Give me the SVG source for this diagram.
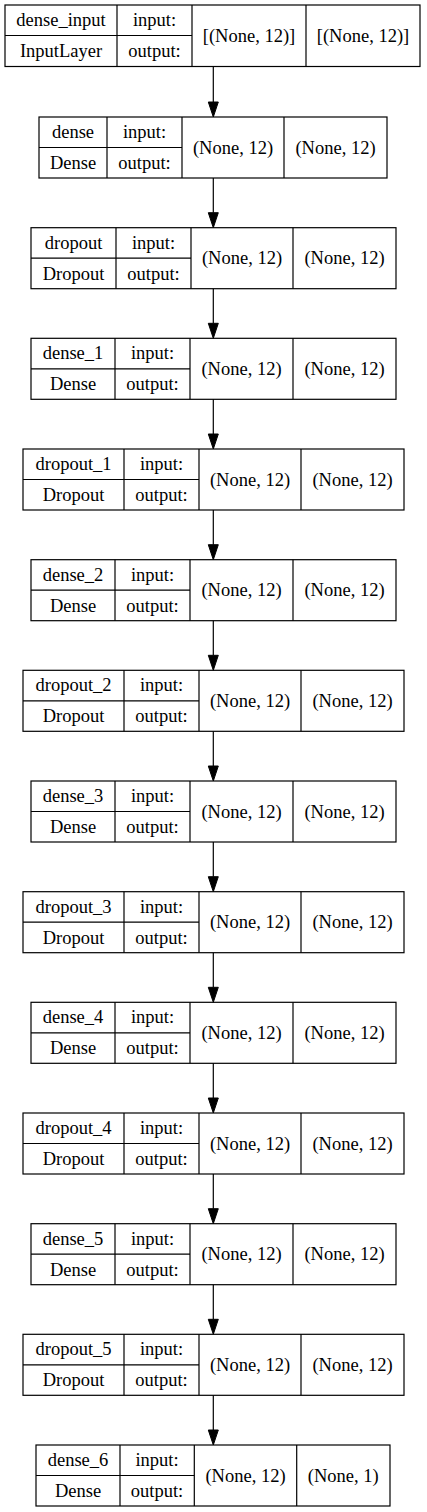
<svg xmlns="http://www.w3.org/2000/svg" width="427" height="1512" viewBox="0 0 427 1512">
<style>
.b{fill:none;stroke:#000;stroke-width:1.2}
.bg{fill:#fff}
text{font-family:"Liberation Serif","Times New Roman",serif;font-size:18.5px;text-anchor:middle;fill:#000}
.e{stroke:#000;stroke-width:1.2;fill:none}
.h{fill:#000;stroke:#000;stroke-width:1}
</style>
<rect x="0" y="0" width="427" height="1512" fill="#fff"/>
<g id="connectors">
<line class="e" x1="213.3" y1="66.5" x2="213.3" y2="102"/><polygon class="h" points="208.3,102 218.3,102 213.3,117"/>
<line class="e" x1="213.3" y1="178" x2="213.3" y2="212.7"/><polygon class="h" points="208.3,212.7 218.3,212.7 213.3,227.7"/>
<line class="e" x1="213.3" y1="288.7" x2="213.3" y2="323.3"/><polygon class="h" points="208.3,323.3 218.3,323.3 213.3,338.3"/>
<line class="e" x1="213.3" y1="399.3" x2="213.3" y2="434"/><polygon class="h" points="208.3,434 218.3,434 213.3,449"/>
<line class="e" x1="213.3" y1="510" x2="213.3" y2="544.7"/><polygon class="h" points="208.3,544.7 218.3,544.7 213.3,559.7"/>
<line class="e" x1="213.3" y1="620.7" x2="213.3" y2="655.3"/><polygon class="h" points="208.3,655.3 218.3,655.3 213.3,670.3"/>
<line class="e" x1="213.3" y1="731.3" x2="213.3" y2="766"/><polygon class="h" points="208.3,766 218.3,766 213.3,781"/>
<line class="e" x1="213.3" y1="842" x2="213.3" y2="876.7"/><polygon class="h" points="208.3,876.7 218.3,876.7 213.3,891.7"/>
<line class="e" x1="213.3" y1="952.7" x2="213.3" y2="987.3"/><polygon class="h" points="208.3,987.3 218.3,987.3 213.3,1002.3"/>
<line class="e" x1="213.3" y1="1063.3" x2="213.3" y2="1098"/><polygon class="h" points="208.3,1098 218.3,1098 213.3,1113"/>
<line class="e" x1="213.3" y1="1174" x2="213.3" y2="1208.7"/><polygon class="h" points="208.3,1208.7 218.3,1208.7 213.3,1223.7"/>
<line class="e" x1="213.3" y1="1284.7" x2="213.3" y2="1319.3"/><polygon class="h" points="208.3,1319.3 218.3,1319.3 213.3,1334.3"/>
<line class="e" x1="213.3" y1="1395.3" x2="213.3" y2="1430"/><polygon class="h" points="208.3,1430 218.3,1430 213.3,1445"/>
</g>

<g id="dense_input" transform="translate(0,5)">
<rect class="b" x="5" y="0" width="415" height="61.5"/>
<line class="b" x1="117" y1="0" x2="117" y2="61.5"/>
<line class="b" x1="192" y1="0" x2="192" y2="61.5"/>
<line class="b" x1="306" y1="0" x2="306" y2="61.5"/>
<line class="b" x1="5" y1="30.5" x2="192" y2="30.5"/>
<text x="61" y="21">dense_input</text>
<text x="61" y="52">InputLayer</text>
<text x="154.5" y="21">input:</text>
<text x="154.5" y="52">output:</text>
<text x="249" y="37">[(None, 12)]</text>
<text x="363" y="37">[(None, 12)]</text>
</g>

<g id="dense" transform="translate(0,117)">
<rect class="b" x="39" y="0" width="348" height="61"/>
<line class="b" x1="107" y1="0" x2="107" y2="61"/>
<line class="b" x1="182" y1="0" x2="182" y2="61"/>
<line class="b" x1="284" y1="0" x2="284" y2="61"/>
<line class="b" x1="39" y1="30.5" x2="182" y2="30.5"/>
<text x="73" y="21">dense</text>
<text x="73" y="52">Dense</text>
<text x="144.5" y="21">input:</text>
<text x="144.5" y="52">output:</text>
<text x="233" y="36.5">(None, 12)</text>
<text x="335.5" y="36.5">(None, 12)</text>
</g>

<g id="dropout" transform="translate(0,227.7)">
<rect class="b" x="31" y="0" width="365" height="61"/>
<line class="b" x1="116" y1="0" x2="116" y2="61"/>
<line class="b" x1="191" y1="0" x2="191" y2="61"/>
<line class="b" x1="293" y1="0" x2="293" y2="61"/>
<line class="b" x1="31" y1="30.5" x2="191" y2="30.5"/>
<text x="73.5" y="21">dropout</text>
<text x="73.5" y="52">Dropout</text>
<text x="153.5" y="21">input:</text>
<text x="153.5" y="52">output:</text>
<text x="242" y="36.5">(None, 12)</text>
<text x="344.5" y="36.5">(None, 12)</text>
</g>

<g id="dense_1" transform="translate(0,338.3)">
<rect class="b" x="31" y="0" width="365" height="61"/>
<line class="b" x1="115" y1="0" x2="115" y2="61"/>
<line class="b" x1="190" y1="0" x2="190" y2="61"/>
<line class="b" x1="293" y1="0" x2="293" y2="61"/>
<line class="b" x1="31" y1="30.5" x2="190" y2="30.5"/>
<text x="73" y="21">dense_1</text>
<text x="73" y="52">Dense</text>
<text x="152.5" y="21">input:</text>
<text x="152.5" y="52">output:</text>
<text x="241.5" y="36.5">(None, 12)</text>
<text x="344.5" y="36.5">(None, 12)</text>
</g>

<g id="dropout_1" transform="translate(0,449)">
<rect class="b" x="23" y="0" width="381" height="61"/>
<line class="b" x1="124" y1="0" x2="124" y2="61"/>
<line class="b" x1="199" y1="0" x2="199" y2="61"/>
<line class="b" x1="301" y1="0" x2="301" y2="61"/>
<line class="b" x1="23" y1="30.5" x2="199" y2="30.5"/>
<text x="73.5" y="21">dropout_1</text>
<text x="73.5" y="52">Dropout</text>
<text x="161.5" y="21">input:</text>
<text x="161.5" y="52">output:</text>
<text x="250" y="36.5">(None, 12)</text>
<text x="352.5" y="36.5">(None, 12)</text>
</g>

<g id="dense_2" transform="translate(0,559.7)">
<rect class="b" x="31" y="0" width="365" height="61"/>
<line class="b" x1="115" y1="0" x2="115" y2="61"/>
<line class="b" x1="190" y1="0" x2="190" y2="61"/>
<line class="b" x1="293" y1="0" x2="293" y2="61"/>
<line class="b" x1="31" y1="30.5" x2="190" y2="30.5"/>
<text x="73" y="21">dense_2</text>
<text x="73" y="52">Dense</text>
<text x="152.5" y="21">input:</text>
<text x="152.5" y="52">output:</text>
<text x="241.5" y="36.5">(None, 12)</text>
<text x="344.5" y="36.5">(None, 12)</text>
</g>

<g id="dropout_2" transform="translate(0,670.3)">
<rect class="b" x="23" y="0" width="381" height="61"/>
<line class="b" x1="124" y1="0" x2="124" y2="61"/>
<line class="b" x1="199" y1="0" x2="199" y2="61"/>
<line class="b" x1="301" y1="0" x2="301" y2="61"/>
<line class="b" x1="23" y1="30.5" x2="199" y2="30.5"/>
<text x="73.5" y="21">dropout_2</text>
<text x="73.5" y="52">Dropout</text>
<text x="161.5" y="21">input:</text>
<text x="161.5" y="52">output:</text>
<text x="250" y="36.5">(None, 12)</text>
<text x="352.5" y="36.5">(None, 12)</text>
</g>

<g id="dense_3" transform="translate(0,781)">
<rect class="b" x="31" y="0" width="365" height="61"/>
<line class="b" x1="115" y1="0" x2="115" y2="61"/>
<line class="b" x1="190" y1="0" x2="190" y2="61"/>
<line class="b" x1="293" y1="0" x2="293" y2="61"/>
<line class="b" x1="31" y1="30.5" x2="190" y2="30.5"/>
<text x="73" y="21">dense_3</text>
<text x="73" y="52">Dense</text>
<text x="152.5" y="21">input:</text>
<text x="152.5" y="52">output:</text>
<text x="241.5" y="36.5">(None, 12)</text>
<text x="344.5" y="36.5">(None, 12)</text>
</g>

<g id="dropout_3" transform="translate(0,891.7)">
<rect class="b" x="23" y="0" width="381" height="61"/>
<line class="b" x1="124" y1="0" x2="124" y2="61"/>
<line class="b" x1="199" y1="0" x2="199" y2="61"/>
<line class="b" x1="301" y1="0" x2="301" y2="61"/>
<line class="b" x1="23" y1="30.5" x2="199" y2="30.5"/>
<text x="73.5" y="21">dropout_3</text>
<text x="73.5" y="52">Dropout</text>
<text x="161.5" y="21">input:</text>
<text x="161.5" y="52">output:</text>
<text x="250" y="36.5">(None, 12)</text>
<text x="352.5" y="36.5">(None, 12)</text>
</g>

<g id="dense_4" transform="translate(0,1002.3)">
<rect class="b" x="31" y="0" width="365" height="61"/>
<line class="b" x1="115" y1="0" x2="115" y2="61"/>
<line class="b" x1="190" y1="0" x2="190" y2="61"/>
<line class="b" x1="293" y1="0" x2="293" y2="61"/>
<line class="b" x1="31" y1="30.5" x2="190" y2="30.5"/>
<text x="73" y="21">dense_4</text>
<text x="73" y="52">Dense</text>
<text x="152.5" y="21">input:</text>
<text x="152.5" y="52">output:</text>
<text x="241.5" y="36.5">(None, 12)</text>
<text x="344.5" y="36.5">(None, 12)</text>
</g>

<g id="dropout_4" transform="translate(0,1113)">
<rect class="b" x="23" y="0" width="381" height="61"/>
<line class="b" x1="124" y1="0" x2="124" y2="61"/>
<line class="b" x1="199" y1="0" x2="199" y2="61"/>
<line class="b" x1="301" y1="0" x2="301" y2="61"/>
<line class="b" x1="23" y1="30.5" x2="199" y2="30.5"/>
<text x="73.5" y="21">dropout_4</text>
<text x="73.5" y="52">Dropout</text>
<text x="161.5" y="21">input:</text>
<text x="161.5" y="52">output:</text>
<text x="250" y="36.5">(None, 12)</text>
<text x="352.5" y="36.5">(None, 12)</text>
</g>

<g id="dense_5" transform="translate(0,1223.7)">
<rect class="b" x="31" y="0" width="365" height="61"/>
<line class="b" x1="115" y1="0" x2="115" y2="61"/>
<line class="b" x1="190" y1="0" x2="190" y2="61"/>
<line class="b" x1="293" y1="0" x2="293" y2="61"/>
<line class="b" x1="31" y1="30.5" x2="190" y2="30.5"/>
<text x="73" y="21">dense_5</text>
<text x="73" y="52">Dense</text>
<text x="152.5" y="21">input:</text>
<text x="152.5" y="52">output:</text>
<text x="241.5" y="36.5">(None, 12)</text>
<text x="344.5" y="36.5">(None, 12)</text>
</g>

<g id="dropout_5" transform="translate(0,1334.3)">
<rect class="b" x="23" y="0" width="381" height="61"/>
<line class="b" x1="124" y1="0" x2="124" y2="61"/>
<line class="b" x1="199" y1="0" x2="199" y2="61"/>
<line class="b" x1="301" y1="0" x2="301" y2="61"/>
<line class="b" x1="23" y1="30.5" x2="199" y2="30.5"/>
<text x="73.5" y="21">dropout_5</text>
<text x="73.5" y="52">Dropout</text>
<text x="161.5" y="21">input:</text>
<text x="161.5" y="52">output:</text>
<text x="250" y="36.5">(None, 12)</text>
<text x="352.5" y="36.5">(None, 12)</text>
</g>

<g id="dense_6" transform="translate(0,1445)">
<rect class="b" x="36" y="0" width="354" height="61"/>
<line class="b" x1="120" y1="0" x2="120" y2="61"/>
<line class="b" x1="194.3" y1="0" x2="194.3" y2="61"/>
<line class="b" x1="296.7" y1="0" x2="296.7" y2="61"/>
<line class="b" x1="36" y1="30.5" x2="194.3" y2="30.5"/>
<text x="78" y="21">dense_6</text>
<text x="78" y="52">Dense</text>
<text x="157" y="21">input:</text>
<text x="157" y="52">output:</text>
<text x="245.5" y="36.5">(None, 12)</text>
<text x="343.3" y="36.5">(None, 1)</text>
</g>
</svg>
